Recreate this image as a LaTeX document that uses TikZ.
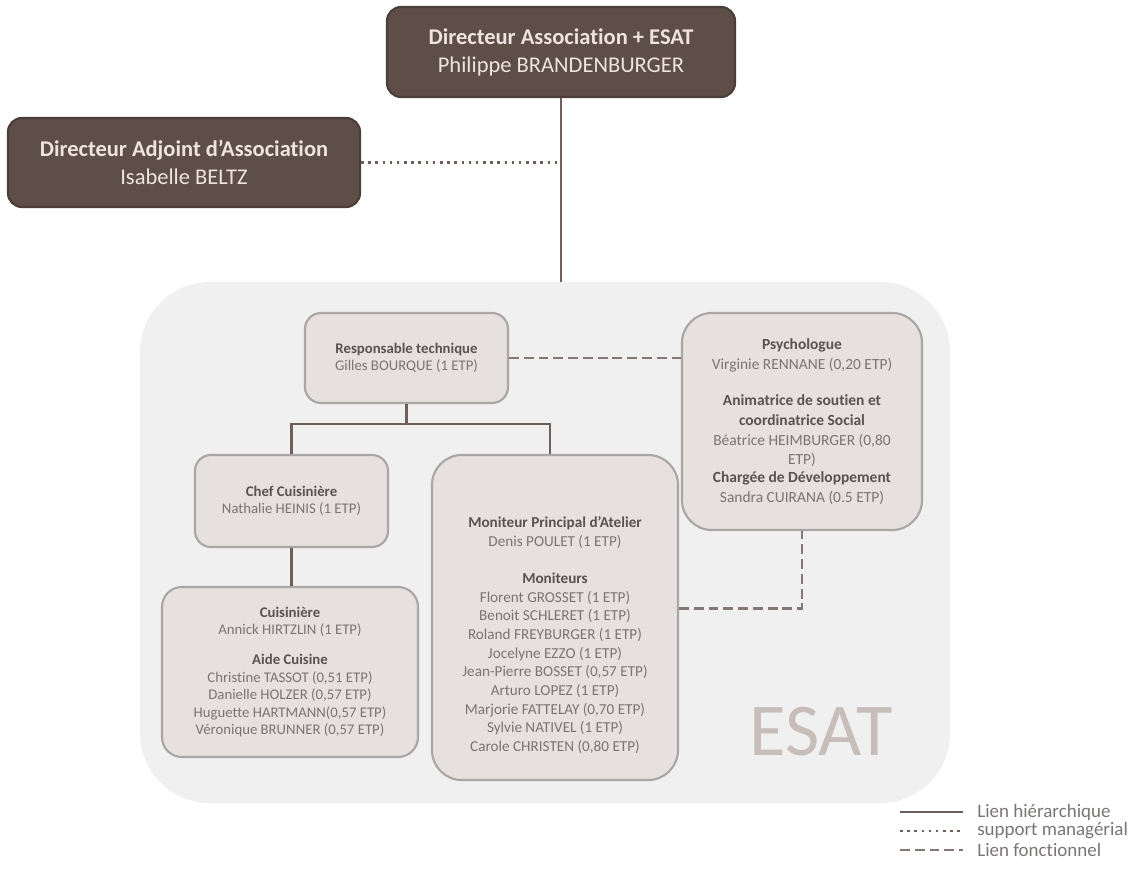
\documentclass[tikz,border=0pt]{standalone}
\usepackage{fontspec}
\setmainfont{Carlito}[Ligatures=NoCommon]
\usepackage{tikz}
\usetikzlibrary{positioning}

\definecolor{brundark}{HTML}{5E4E48}
\definecolor{brunborder}{HTML}{4B3E39}
\definecolor{textclair}{HTML}{EEE3DF}
\definecolor{boxfill}{HTML}{E6E0DE}
\definecolor{boxborder}{HTML}{A9A6A5}
\definecolor{panelgray}{HTML}{F0F0F0}
\definecolor{lienbrun}{HTML}{6F5F5A}
\definecolor{titlegray}{HTML}{5A5252}
\definecolor{namegray}{HTML}{7A7574}
\definecolor{esatgray}{HTML}{C7BDB9}

\newcommand{\poste}[1]{\textbf{\color{titlegray}#1}}

\begin{document}
\begin{tikzpicture}[
  x=0.025cm, y=-0.025cm,
  direction/.style={draw=brunborder, line width=1.5pt, fill=brundark, rounded corners=0.35cm, text=textclair, align=center, font=\fontsize{16}{20}\selectfont},
  panel/.style={fill=panelgray, rounded corners=1.75cm, minimum width=20.25cm, minimum height=13.025cm, inner sep=0pt},
  service/.style={draw=boxborder, line width=1.5pt, fill=boxfill, rounded corners=0.4cm, text=namegray, align=center, inner sep=2pt, font=\fontsize{10.5}{12.5}\selectfont},
  equipe/.style={service, rounded corners=0.75cm},
  hier/.style={draw=lienbrun, line width=2pt},
  support/.style={draw=lienbrun, line width=2pt, dash pattern=on 1.8pt off 3.3pt},
  fonction/.style={draw=lienbrun!85, line width=2pt, dash pattern=on 7pt off 3.5pt},
  legende/.style={anchor=west, inner sep=0pt, text=namegray, font=\fontsize{13.5}{15}\selectfont}
]
\useasboundingbox (0,0) rectangle (1139,870);

% ESAT area
\node[panel] (esat) at (545,542.5) {};
\node[text=esatgray, font=\fontsize{53}{60}\selectfont] (esatname) at (821,732) {ESAT};

% direction
\node[direction, minimum width=8.7cm, minimum height=2.25cm] (dir) at (561,52)
  {\textbf{Directeur Association + ESAT}\\Philippe BRANDENBURGER};
\node[direction, minimum width=8.8cm, minimum height=2.225cm] (adj) at (184,162.5)
  {\textbf{Directeur Adjoint d’Association}\\Isabelle BELTZ};

% services
\node[service, minimum width=5.075cm, minimum height=2.25cm, font=\fontsize{10.5}{12}\selectfont] (resp) at (406.5,358)
  {\poste{Responsable technique}\\Gilles BOURQUE (1 ETP)};
\node[equipe, minimum width=6cm, minimum height=5.425cm, font=\fontsize{11}{14}\selectfont] (psy) at (802,421.5)
  {\poste{Psychologue}\\Virginie RENNANE (0,20 ETP)\\[0.42cm]
   \poste{Animatrice de soutien et}\\\poste{coordinatrice Social}\\Béatrice HEIMBURGER (0,80\\ETP)\\[-0.05cm]
   \poste{Chargée de Développement}\\Sandra CUIRANA (0.5 ETP)};
\node[service, minimum width=4.825cm, minimum height=2.3cm] (chef) at (291.5,501)
  {\poste{Chef Cuisinière}\\Nathalie HEINIS (1 ETP)};
\node[service, rounded corners=0.5cm, minimum width=6.4cm, minimum height=4.25cm] (cuis) at (290,672)
  {\poste{Cuisinière}\\Annick HIRTZLIN (1 ETP)\\[0.3cm]
   \poste{Aide Cuisine}\\Christine TASSOT (0,51 ETP)\\Danielle HOLZER (0,57 ETP)\\
   Huguette HARTMANN(0,57 ETP)\\Véronique BRUNNER (0,57 ETP)};
\node[equipe, minimum width=6.15cm, minimum height=8.125cm, font=\fontsize{10.8}{13.3}\selectfont] (mon) at (555,617.5)
  {\mbox{}\\[0.7cm]
   \poste{Moniteur Principal d’Atelier}\\Denis POULET (1 ETP)\\[0.45cm]
   \poste{Moniteurs}\\Florent GROSSET (1 ETP)\\Benoit SCHLERET (1 ETP)\\Roland FREYBURGER (1 ETP)\\
   Jocelyne EZZO (1 ETP)\\Jean-Pierre BOSSET (0,57 ETP)\\Arturo LOPEZ (1 ETP)\\
   Marjorie FATTELAY (0,70 ETP)\\Sylvie NATIVEL (1 ETP)\\Carole CHRISTEN (0,80 ETP)};

% liens
\draw[hier] (dir.south) -- (dir.south |- esat.north);
\draw[support] (adj.east) -- (adj.east -| dir.south);
\draw[hier] (resp.south) -- ++(0,20) -| (chef.north);
\draw[hier] (resp.south) ++(0,20) -| ([xshift=-0.125cm]mon.north);
\draw[hier] (chef.south) -- (chef.south |- cuis.north);
\draw[fonction] (resp.east) -- (resp.east -| psy.west);
\draw[fonction] ([yshift=0.225cm]mon.east) -| (psy.south);

% legende
\node[legende] (lg1) at (977,812) {Lien hiérarchique};
\node[legende] (lg2) at (977,831) {support managérial};
\node[legende] (lg3) at (977,850) {Lien fonctionnel};
\draw[hier] ([xshift=-1.925cm]lg1.west) -- ([xshift=-0.35cm]lg1.west);
\draw[support] ([xshift=-1.925cm]lg2.west) -- ([xshift=-0.35cm]lg2.west);
\draw[fonction] ([xshift=-1.925cm]lg3.west) -- ([xshift=-0.35cm]lg3.west);
\end{tikzpicture}
\end{document}
